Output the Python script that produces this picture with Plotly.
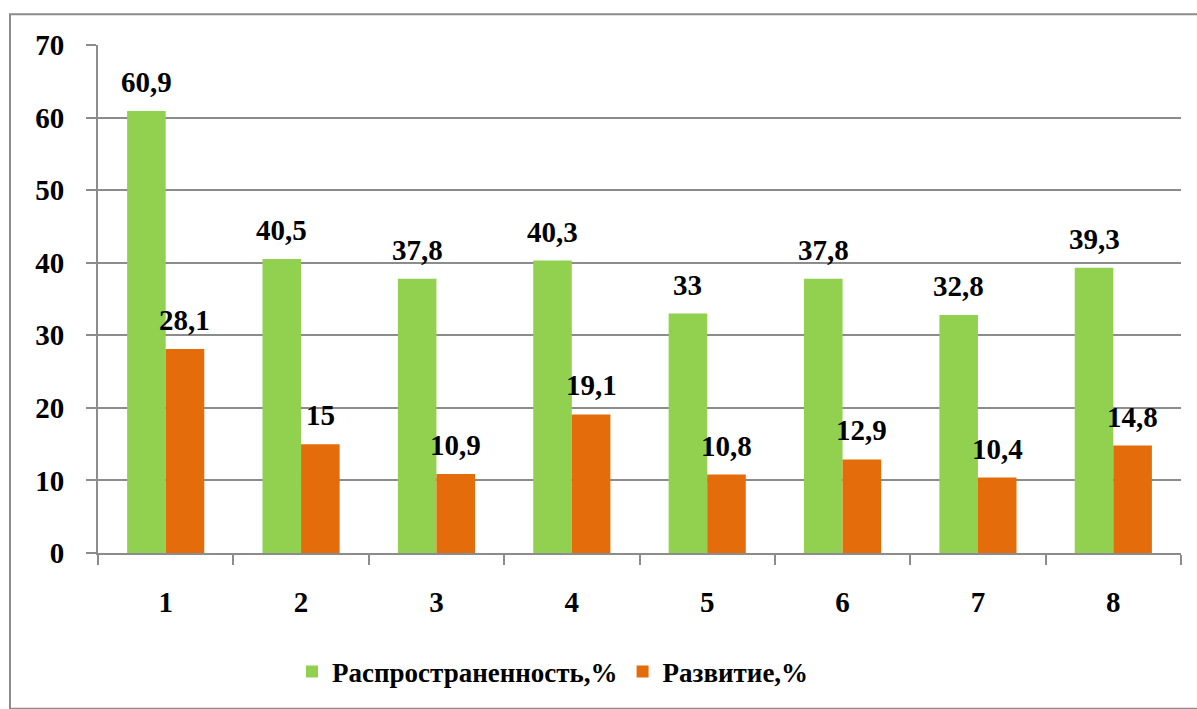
import plotly.graph_objects as go

# Data
categories = ["1", "2", "3", "4", "5", "6", "7", "8"]
prevalence = [60.9, 40.5, 37.8, 40.3, 33, 37.8, 32.8, 39.3]
development = [28.1, 15, 10.9, 19.1, 10.8, 12.9, 10.4, 14.8]
series_names = ["Распространенность,%", "Развитие,%"]
y_ticks = [0, 10, 20, 30, 40, 50, 60, 70]

GREEN = "#92D050"
ORANGE = "#E46C0A"
GRID = "#8c8c8c"
FONT = "Liberation Serif"
FS = 29
LEGEND_FS = 27

BARGAP = 0.43
bar_w = (1 - BARGAP) / 2  # width of one bar in category units


def fmt(v):
    s = f"{v:g}"
    return s.replace(".", ",")


def bold(s):
    return f"<b>{s}</b>"


fig = go.Figure()
fig.add_trace(go.Bar(x=categories, y=prevalence, name=bold(series_names[0]),
                     marker=dict(color=GREEN, line=dict(width=0))))
fig.add_trace(go.Bar(x=categories, y=development, name=bold(series_names[1]),
                     marker=dict(color=ORANGE, line=dict(width=0))))

# value labels above each bar (category serial numbers on the x axis)
annotations = []
for vals, off in ((prevalence, -bar_w / 2), (development, bar_w / 2)):
    for i, v in enumerate(vals):
        annotations.append(dict(
            x=i + off, y=v, xref="x", yref="y", text=bold(fmt(v)),
            showarrow=False, yanchor="bottom", xanchor="center", yshift=11,
            font=dict(family=FONT, size=FS, color="black"),
        ))

L, R, T, B = 98, 16, 45, 152
W, H = 1197, 709
pw, ph = W - L - R, H - T - B

# outer chart frame
frame = dict(type="rect", xref="paper", yref="paper",
             x0=(10 - L) / pw, x1=(W + 5 - L) / pw,
             y0=-(H + 5 - T - ph) / ph, y1=1 + (T - 14) / ph,
             line=dict(color=GRID, width=2), layer="below")

fig.update_layout(
    width=W, height=H,
    margin=dict(l=L, r=R, t=T, b=B),
    paper_bgcolor="white", plot_bgcolor="white",
    barmode="group", bargap=BARGAP, bargroupgap=0,
    annotations=annotations,
    shapes=[frame],
    xaxis=dict(
        type="category",
        tickmode="array", tickvals=categories,
        ticktext=[bold(c) for c in categories],
        showgrid=False, zeroline=False,
        showline=True, linecolor=GRID, linewidth=2,
        ticks="outside", ticklen=10, tickcolor=GRID, tickwidth=2,
        tickson="boundaries",
        ticklabelstandoff=22,
        tickfont=dict(family=FONT, size=FS, color="black"),
    ),
    yaxis=dict(
        range=[0, 70], tickvals=y_ticks,
        ticktext=[bold(t) for t in y_ticks],
        showgrid=True, gridcolor=GRID, gridwidth=2,
        zeroline=False, showline=True, linecolor=GRID, linewidth=2,
        ticks="outside", ticklen=10, tickcolor=GRID, tickwidth=2,
        ticklabelstandoff=16,
        tickfont=dict(family=FONT, size=FS, color="black"),
    ),
    legend=dict(
        orientation="h", x=(292 - L) / pw, xanchor="left",
        y=-(677 - T - ph) / ph, yanchor="middle",
        font=dict(family=FONT, size=LEGEND_FS, color="black"),
        itemwidth=30, tracegroupgap=0,
    ),
)

fig.write_html("out.html")
